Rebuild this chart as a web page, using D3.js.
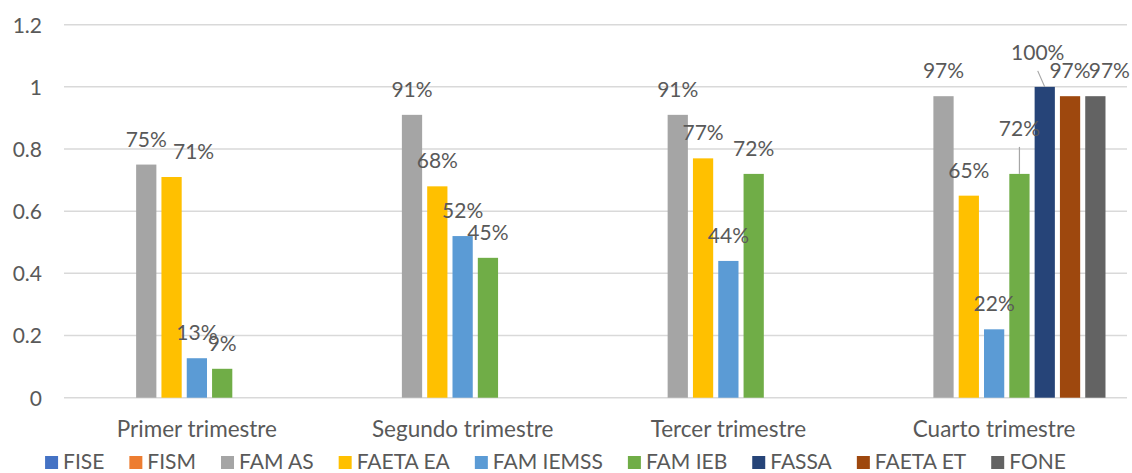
<!DOCTYPE html>
<html>
<head>
<meta charset="utf-8">
<script src="https://cdn.jsdelivr.net/npm/d3@7"></script>
<style>
  html, body { margin: 0; padding: 0; background: #ffffff; }
  svg { display: block; }
  text { font-family: Lato, "Open Sans", sans-serif; fill: #595959; }
</style>
</head>
<body>
<svg id="chart" width="1132" height="473"></svg>
<script>
// ---- data ----
const categories = ["Primer trimestre", "Segundo trimestre", "Tercer trimestre", "Cuarto trimestre"];
const seriesNames = ["FISE", "FISM", "FAM AS", "FAETA EA", "FAM IEMSS", "FAM IEB", "FASSA", "FAETA ET", "FONE"];
const seriesColors = ["#4472C4", "#ED7D31", "#A5A5A5", "#FFC000", "#5B9BD5", "#70AD47", "#264478", "#9E480E", "#636363"];
const FISE      = [null, null, null, null];
const FISM      = [null, null, null, null];
const FAM_AS    = [0.75, 0.91, 0.91, 0.97];
const FAETA_EA  = [0.71, 0.68, 0.77, 0.65];
const FAM_IEMSS = [0.127, 0.52, 0.44, 0.22];
const FAM_IEB   = [0.093, 0.45, 0.72, 0.72];
const FASSA     = [null, null, null, 1.00];
const FAETA_ET  = [null, null, null, 0.97];
const FONE      = [null, null, null, 0.97];
const seriesValues = [FISE, FISM, FAM_AS, FAETA_EA, FAM_IEMSS, FAM_IEB, FASSA, FAETA_ET, FONE];
const yTicks = [0, 0.2, 0.4, 0.6, 0.8, 1, 1.2];
const yTickLabels = ["0", "0.2", "0.4", "0.6", "0.8", "1", "1.2"];
// manual label nudges (Excel moved these labels)
const labelNudges = [
  { series: "FAETA EA", category: "Primer trimestre", dx: 22, dy: 0, leader: false },
  { series: "FAM IEB",  category: "Cuarto trimestre", dx: 0,  dy: -20, leader: true },
  { series: "FASSA",    category: "Cuarto trimestre", dx: -7, dy: -9, leader: true },
  { series: "FONE",     category: "Cuarto trimestre", dx: 14, dy: 0, leader: false }
];

// ---- layout ----
const svg = d3.select("#chart");
const plotLeft = 64, plotRight = 1127, plotTop = 24.7, plotBottom = 397.7;

const y = d3.scaleLinear().domain([0, 1.2]).range([plotBottom, plotTop]);
const x0 = d3.scaleBand().domain(categories).range([plotLeft, plotRight]).padding(0);
const x1 = d3.scaleBand().domain(seriesNames).range([0, x0.bandwidth()])
  .paddingInner(0.2).paddingOuter(0.85);
const color = d3.scaleOrdinal().domain(seriesNames).range(seriesColors);
const fmt = d3.format(".0%");

// gridlines
svg.append("g").selectAll("line").data(yTicks).join("line")
  .attr("x1", plotLeft).attr("x2", plotRight)
  .attr("y1", d => y(d)).attr("y2", d => y(d))
  .attr("stroke", "#D9D9D9").attr("stroke-width", 1.5);

// y axis labels
const yAxis = d3.axisLeft(y).tickValues(yTicks).tickSize(0).tickPadding(0)
  .tickFormat((d, i) => yTickLabels[i]);
const yg = svg.append("g").attr("transform", "translate(42,0)").call(yAxis);
yg.select(".domain").remove();
yg.selectAll("text").attr("font-size", 21).attr("font-family", "Lato, sans-serif")
  .attr("fill", "#595959").attr("dy", "0.35em");

// x axis category labels
const xAxis = d3.axisBottom(x0).tickSize(0).tickPadding(0);
const xg = svg.append("g").attr("transform", "translate(0,437)").call(xAxis);
xg.select(".domain").remove();
xg.selectAll("text").attr("font-size", 22.5).attr("font-family", "Lato, sans-serif")
  .attr("fill", "#595959").attr("dy", 0);

// flatten data
const points = [];
categories.forEach((c, ci) => {
  seriesNames.forEach((s, si) => {
    const v = seriesValues[si][ci];
    if (v !== null && v !== undefined) points.push({ category: c, series: s, value: v });
  });
});

// bars
svg.append("g").selectAll("rect").data(points).join("rect")
  .attr("x", d => x0(d.category) + x1(d.series))
  .attr("y", d => y(d.value))
  .attr("width", x1.bandwidth())
  .attr("height", d => y(0) - y(d.value))
  .attr("fill", d => color(d.series));

// labels
function nudge(d) {
  return labelNudges.find(n => n.series === d.series && n.category === d.category) || { dx: 0, dy: 0, leader: false };
}
const labelGap = 18;
const lg = svg.append("g");
points.forEach(d => {
  const n = nudge(d);
  const cx = x0(d.category) + x1(d.series) + x1.bandwidth() / 2;
  const top = y(d.value);
  const lx = cx + n.dx, ly = top - labelGap + n.dy;
  if (n.leader) {
    lg.append("line")
      .attr("x1", lx).attr("y1", ly + 11)
      .attr("x2", cx).attr("y2", top)
      .attr("stroke", "#A6A6A6").attr("stroke-width", 1.2);
  }
  lg.append("text")
    .attr("x", lx).attr("y", ly)
    .attr("text-anchor", "middle")
    .attr("font-size", 21)
    .text(fmt(d.value));
});

// legend
const legend = svg.append("g");
const items = legend.selectAll("g").data(seriesNames).join("g");
items.append("rect").attr("width", 13).attr("height", 13).attr("y", 456)
  .attr("fill", d => color(d));
items.append("text").attr("x", 18).attr("y", 468.5).attr("font-size", 21).text(d => d);
let cursor = 0;
items.each(function () {
  const g = d3.select(this);
  g.attr("transform", `translate(${cursor},0)`);
  const w = g.select("text").node().getComputedTextLength();
  cursor += 18 + w + 25;
});
const totalW = cursor - 25;
const legendCenter = 555.5;
legend.attr("transform", `translate(${legendCenter - totalW / 2},0)`);
</script>
</body>
</html>
